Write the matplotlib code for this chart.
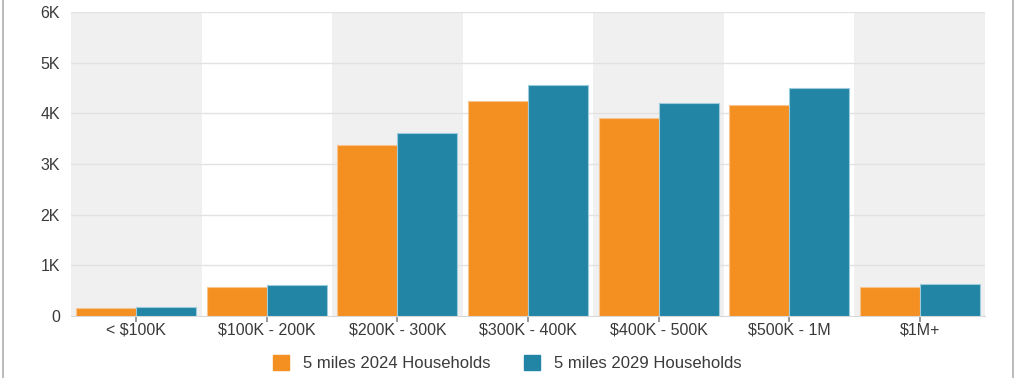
import numpy as np
import matplotlib.pyplot as plt
from matplotlib.patches import FancyBboxPatch
from matplotlib.lines import Line2D

categories = ['< $100K', '$100K - 200K', '$200K - 300K', '$300K - 400K',
              '$400K - 500K', '$500K - 1M', '$1M+']
hh_2024 = [165, 565, 3375, 4240, 3900, 4165, 580]
hh_2029 = [185, 610, 3605, 4555, 4200, 4505, 625]
series_names = ['5 miles 2024 Households', '5 miles 2029 Households']
yticks = [0, 1000, 2000, 3000, 4000, 5000, 6000]
ytick_labels = ['0', '1K', '2K', '3K', '4K', '5K', '6K']

orange = '#F39021'
teal = '#2285A5'
text_col = '#3a3a3a'

plt.rcParams['font.family'] = ['Liberation Sans', 'DejaVu Sans']

fig = plt.figure(figsize=(10.14, 3.78), dpi=100)
ax = fig.add_axes([71 / 1014, 62 / 378, 914 / 1014, 304 / 378])

x = np.arange(len(categories))
w = 0.46

# alternating background bands
for i in range(len(categories)):
    if i % 2 == 0:
        ax.axvspan(i - 0.5, i + 0.5, color='#F0F0F0', zorder=0, lw=0)

for y in yticks[1:]:
    ax.axhline(y, color='#E2E2E2', lw=1, zorder=1)

ax.bar(x - w / 2, hh_2024, width=w, color=orange, edgecolor='#F7C590',
       linewidth=0.8, zorder=3)
ax.bar(x + w / 2, hh_2029, width=w, color=teal, edgecolor='#9CCBDB',
       linewidth=0.8, zorder=3)

ax.set_xlim(-0.5, len(categories) - 0.5)
ax.set_ylim(0, 6000)
ax.set_yticks(yticks)
ax.set_yticklabels(ytick_labels)
ax.set_xticks(x)
ax.set_xticklabels(categories)
ax.tick_params(axis='y', length=0, pad=8, labelsize=11.5, labelcolor=text_col)
ax.tick_params(axis='x', length=4, width=1.2, color='#888888', pad=1,
               labelsize=11.5, labelcolor=text_col)
for s in ['top', 'right', 'left']:
    ax.spines[s].set_visible(False)
ax.spines['bottom'].set_color('#D8D8D8')
ax.set_facecolor('white')

handles = [FancyBboxPatch((0, 0), 1, 1, boxstyle='round,pad=0.1', color=orange),
           FancyBboxPatch((0, 0), 1, 1, boxstyle='round,pad=0.1', color=teal)]
fig.legend(handles, series_names, loc='center', bbox_to_anchor=(0.5, 1 - 363 / 378),
           ncol=2, frameon=False, fontsize=12, handlelength=1.0, handleheight=1.0,
           columnspacing=2.0, handletextpad=0.8, labelcolor=text_col)

# outer frame lines
fig.add_artist(Line2D([2.5 / 1014, 2.5 / 1014], [0, 1], color='#B0B0B0', lw=1.2))
fig.add_artist(Line2D([1012.5 / 1014, 1012.5 / 1014], [0, 1], color='#B0B0B0', lw=1.2))

fig.savefig('out.png', dpi=100)
